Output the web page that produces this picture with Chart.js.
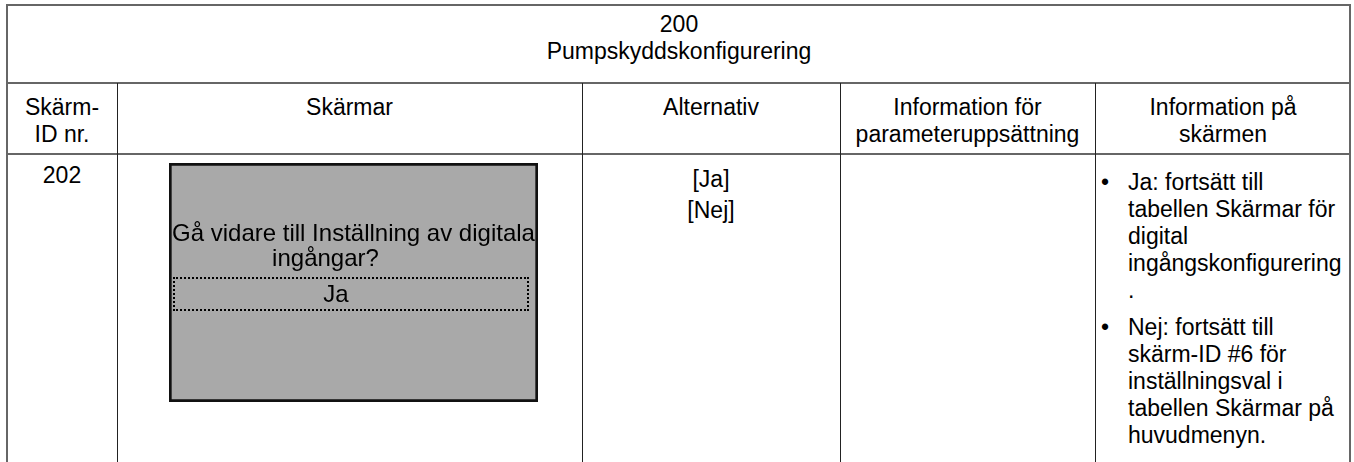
<!DOCTYPE html>
<html>
<head>
<meta charset="utf-8">
<script src="https://cdn.jsdelivr.net/npm/chart.js@4.4.0/dist/chart.umd.min.js"></script>
<style>
  html, body { margin: 0; padding: 0; background: #fff; }
  body { width: 1354px; height: 462px; position: relative; overflow: hidden;
         font-family: "Liberation Sans", Arial, sans-serif; font-size: 23px; color: #000; }
  .ln { position: absolute; }
  .h { background: #666; height: 2px; }
  .v { background: #222; width: 1px; }
  .vo { background: #666; width: 2px; }
  .cell { position: absolute; text-align: center; line-height: 27px; }
  #screen { position: absolute; left: 169px; top: 163px; width: 369px; height: 239px; }
  #screenText { position: absolute; left: 169px; top: 163px; width: 369px; height: 239px;
                font-size: 24px; line-height: 25px; color: #000; }
  #info ul { margin: 0; padding: 0; list-style: none; }
  #info li { position: relative; padding-left: 33px; text-align: left; }
  #info li + li { margin-top: 10px; }
  #info li::before { content: "\2022"; position: absolute; left: 6px; font-size: 23px; }
</style>
</head>
<body>
<div id="grid"></div>
<div id="cells"></div>
<div id="screen"><canvas id="screenChart"></canvas></div>
<div id="screenText"></div>

<script>
// ---- TABLE CONTENT ----
const titleLines = ["200", "Pumpskyddskonfigurering"];
const headers = [["Skärm-", "ID nr."], ["Skärmar"], ["Alternativ"], ["Information för", "parameteruppsättning"], ["Information på", "skärmen"]];
const screenId = "202";
const options = ["[Ja]", "[Nej]"];
const screenPrompt = ["Gå vidare till Inställning av digitala", "ingångar?"];
const screenChoice = "Ja";
const infoItems = [
  ["Ja: fortsätt till", "tabellen Skärmar för", "digital", "ingångskonfigurering", "."],
  ["Nej: fortsätt till", "skärm-ID #6 för", "inställningsval i", "tabellen Skärmar på", "huvudmenyn."]
];

// column edges
const colX = [7, 117, 582, 840, 1095, 1351];

function add(parent, cls, css, html) {
  const el = document.createElement("div");
  el.className = cls;
  Object.assign(el.style, css);
  if (html !== undefined) el.innerHTML = html;
  parent.appendChild(el);
  return el;
}

// ---- GRID ----
const grid = document.getElementById("grid");
[4, 82, 153].forEach(y => add(grid, "ln h", { left: "7px", top: y + "px", width: "1344px" }));
add(grid, "ln vo", { left: "6px", top: "4px", height: "458px" });
add(grid, "ln vo", { left: "1349px", top: "4px", height: "458px" });
colX.slice(1, 5).forEach(x => add(grid, "ln v", { left: x + "px", top: "83px", height: "379px" }));

// ---- CELLS ----
const cells = document.getElementById("cells");
add(cells, "cell", { left: "7px", width: "1344px", top: "11px" }, titleLines.join("<br>"));
headers.forEach((h, i) => {
  add(cells, "cell", { left: colX[i] + "px", width: (colX[i + 1] - colX[i]) + "px", top: "94px" }, h.join("<br>"));
});
add(cells, "cell", { left: colX[0] + "px", width: (colX[1] - colX[0]) + "px", top: "162px" }, screenId);
add(cells, "cell", { left: colX[2] + "px", width: (colX[3] - colX[2]) + "px", top: "164px", lineHeight: "31px" }, options.join("<br>"));
const info = add(cells, "cell", { left: colX[4] + "px", width: (colX[5] - colX[4]) + "px", top: "169px" });
info.id = "info";
info.innerHTML = "<ul>" + infoItems.map(it => "<li>" + it.join("<br>") + "</li>").join("") + "</ul>";

// ---- SCREEN TEXT ----
const st = document.getElementById("screenText");
add(st, "cell", { left: "0px", width: "369px", top: "57px", lineHeight: "25px", fontSize: "24px" },
  screenPrompt[0] + "<br><span style='display:inline-block;margin-right:56px'>" + screenPrompt[1] + "</span>");
add(st, "cell", { left: "4px", top: "114px", width: "352px", height: "30px", border: "2px dotted #000",
  lineHeight: "30px", fontSize: "24px" }, "<span style='display:inline-block;margin-right:30px'>" + screenChoice + "</span>");

// ---- SCREEN PANEL (Chart.js) ----
new Chart(document.getElementById("screenChart"), {
  type: "bar",
  data: {
    labels: ["screen"],
    datasets: [{
      data: [1],
      backgroundColor: "#a9a9a9",
      borderColor: "#111",
      borderWidth: 3,
      borderSkipped: false,
      barPercentage: 1,
      categoryPercentage: 1
    }]
  },
  options: {
    responsive: true,
    maintainAspectRatio: false,
    animation: false,
    events: [],
    layout: { padding: 0 },
    plugins: { legend: { display: false }, tooltip: { enabled: false } },
    scales: {
      x: { display: false },
      y: { display: false, min: 0, max: 1 }
    }
  }
});
</script>
</body>
</html>
